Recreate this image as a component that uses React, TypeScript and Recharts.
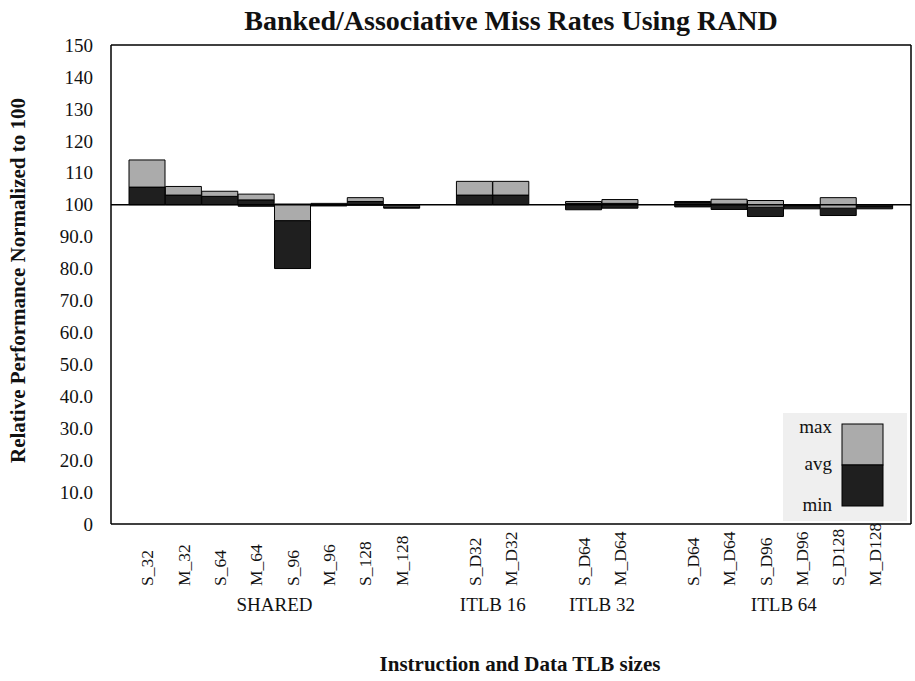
import { BarChart, Bar, XAxis, YAxis, ReferenceLine } from 'recharts';

const categories = ['S_32', 'M_32', 'S_64', 'M_64', 'S_96', 'M_96', 'S_128', 'M_128', '',
    'S_D32', 'M_D32', '', 'S_D64', 'M_D64', '', 'S_D64', 'M_D64', 'S_D96', 'M_D96', 'S_D128', 'M_D128'];

const minValues = [100, 100, 100, 99.5, 80.0, 99.6, 99.8, 98.9, null,
    100, 100, null, 98.4, 98.9, null, 99.3, 98.5, 96.3, 98.7, 96.6, 98.7];
const avgValues = [105.5, 103.0, 102.6, 101.5, 95.0, 100.0, 101.0, 99.3, null,
    103.0, 103.0, null, 100.4, 100.4, null, 100.7, 100.2, 99.2, 99.7, 98.9, 99.6];
const maxValues = [114.0, 105.7, 104.2, 103.3, 100.2, 100.4, 102.2, 99.8, null,
    107.3, 107.3, null, 101.0, 101.6, null, 101.0, 101.7, 101.3, 100.0, 102.2, 99.9];

const groupNames = ['SHARED', 'ITLB 16', 'ITLB 32', 'ITLB 64'];
const groupStart = [0, 9, 12, 15];
const groupSize = [8, 2, 2, 6];

const yTicks = [0, 10, 20, 30, 40, 50, 60, 70, 80, 90, 100, 110, 120, 130, 140, 150];

const W = 915;
const H = 681;
const PLOT_LEFT = 111;
const PLOT_RIGHT = 911;
const PLOT_TOP = 45;
const PLOT_BOTTOM = 524;
const PAD = 18;
const BAND = (PLOT_RIGHT - PLOT_LEFT - 2 * PAD) / categories.length;

const FONT = '"Liberation Serif", "Times New Roman", serif';
const LIGHT = '#ababab';
const DARK = '#1f1f1f';

const data = categories.map((name, i) => {
    const lo = minValues[i];
    const av = avgValues[i];
    const hi = maxValues[i];
    return {
        name,
        base: lo,
        low: lo !== null && av !== null ? av - lo : null,
        high: av !== null && hi !== null ? hi - av : null,
    };
});

const fmtY = (v: number) => (v >= 100 || v === 0 ? String(v) : v.toFixed(1));

// rotated category name, plus the group name under the first member of each group
const CatTick = (props: any) => {
    const { x, y, payload } = props;
    const i = props.index !== undefined ? props.index : payload.index;
    const g = groupStart.indexOf(i);
    return <g>
        {payload.value ?
            <text transform={`translate(${x + 6},${y + 62}) rotate(-90)`} textAnchor="start"
                fontSize={17.5} fontFamily={FONT} fill="#111">{payload.value}</text> : null}
        {g >= 0 ?
            <text x={x + ((groupSize[g] - 1) / 2) * BAND} y={y + 87} textAnchor="middle"
                fontSize={19} fontFamily={FONT} fill="#111">{groupNames[g]}</text> : null}
    </g>;
};

const App = () => {
    return <div style={{ position: 'absolute', left: 0, top: 0, width: W, height: H, background: '#fff' }}>
        <BarChart width={W} height={H} data={data} barCategoryGap={0}
            margin={{ top: PLOT_TOP - 1, right: W - PLOT_RIGHT - 1, left: 0, bottom: 0 }}>
            <XAxis dataKey="name" interval={0} padding={{ left: PAD, right: PAD }}
                height={H - PLOT_BOTTOM} tickSize={0} tickMargin={0} tick={<CatTick />}
                axisLine={{ stroke: '#000', strokeWidth: 1.5 }} />
            <XAxis xAxisId="top" dataKey="name" orientation="top" height={1} tick={false}
                tickLine={false} axisLine={{ stroke: '#000', strokeWidth: 1.5 }} />
            <YAxis domain={[0, 150]} ticks={yTicks} width={PLOT_LEFT} tickSize={0} tickMargin={18}
                tickLine={false} tickFormatter={fmtY} axisLine={{ stroke: '#000', strokeWidth: 1.5 }}
                tick={{ fontSize: 19, fontFamily: FONT, fill: '#111' }} />
            <YAxis yAxisId="right" orientation="right" domain={[0, 150]} width={1} tick={false}
                tickLine={false} axisLine={{ stroke: '#000', strokeWidth: 1.5 }} />
            <Bar dataKey="base" stackId="a" fill="transparent" isAnimationActive={false} />
            <Bar dataKey="low" stackId="a" fill={DARK} stroke="#000" strokeWidth={1} isAnimationActive={false} />
            <Bar dataKey="high" stackId="a" fill={LIGHT} stroke="#000" strokeWidth={1} isAnimationActive={false} />
            <ReferenceLine xAxisId="top" y={100} stroke="#000" strokeWidth={1.5} />
        </BarChart>
        <svg width={W} height={H} style={{ position: 'absolute', left: 0, top: 0, pointerEvents: 'none' }}>
            <text x={(PLOT_LEFT + PLOT_RIGHT) / 2} y={30} textAnchor="middle" fontSize={28}
                fontWeight="bold" fontFamily={FONT} fill="#111">Banked/Associative Miss Rates Using RAND</text>
            <text transform={`translate(25,${(PLOT_TOP + PLOT_BOTTOM) / 2 - 4}) rotate(-90)`} textAnchor="middle"
                fontSize={21} fontWeight="bold" fontFamily={FONT} fill="#111">Relative Performance Normalized to 100</text>
            <text x={520} y={671} textAnchor="middle" fontSize={21} fontWeight="bold" fontFamily={FONT}
                fill="#111">Instruction and Data TLB sizes</text>
            <rect x={783} y={413} width={124} height={108} fill="#efefef" />
            <rect x={842} y={424} width={41} height={41} fill={LIGHT} stroke="#000" />
            <rect x={842} y={465} width={41} height={41} fill={DARK} stroke="#000" />
            <text x={832} y={433} textAnchor="end" fontSize={19} fontFamily={FONT} fill="#111">max</text>
            <text x={832} y={470} textAnchor="end" fontSize={19} fontFamily={FONT} fill="#111">avg</text>
            <text x={832} y={511} textAnchor="end" fontSize={19} fontFamily={FONT} fill="#111">min</text>
        </svg>
    </div>;
};

export default App;
